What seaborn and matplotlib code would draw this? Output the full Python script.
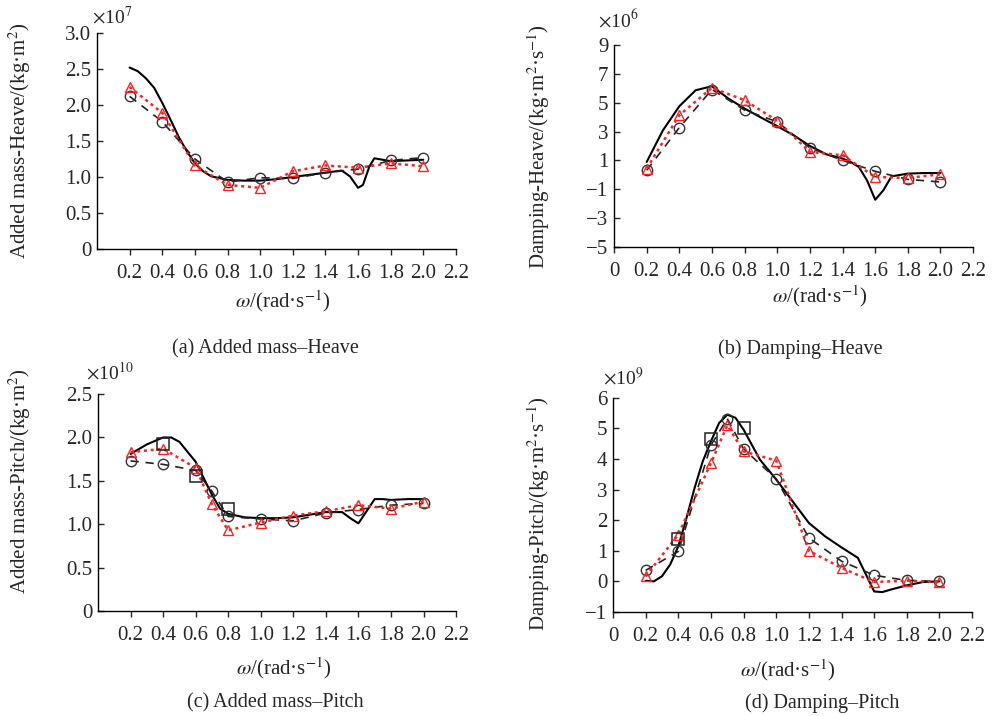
import numpy as np
import matplotlib
matplotlib.use("Agg")
import matplotlib.pyplot as plt
import seaborn as sns

# omega points (rad/s)
w = [0.2, 0.4, 0.6, 0.8, 1.0, 1.2, 1.4, 1.6, 1.8, 2.0]
w7 = [0.2, 0.4, 0.6, 0.7, 0.8, 1.0, 1.2, 1.4, 1.6, 1.8, 2.0]
w_sq = [0.4, 0.6, 0.8]

# (a) Added mass - Heave, x1e7
a_circ = [2.12, 1.77, 1.25, 0.93, 0.99, 0.98, 1.06, 1.11, 1.23, 1.27]
a_tri = [2.25, 1.89, 1.16, 0.89, 0.85, 1.08, 1.16, 1.13, 1.19, 1.15]
a_sol_x = [0.2, 0.25, 0.3, 0.35, 0.4, 0.45, 0.5, 0.55, 0.6, 0.65, 0.7, 0.8, 0.9, 1.0,
           1.1, 1.2, 1.3, 1.4, 1.5, 1.55, 1.6, 1.63, 1.67, 1.7, 1.75, 1.8, 1.9, 2.0]
a_sol_y = [2.52, 2.47, 2.37, 2.24, 2.03, 1.80, 1.56, 1.36, 1.19, 1.08, 1.01, 0.96, 0.95, 0.95,
           0.97, 1.00, 1.03, 1.06, 1.09, 1.01, 0.85, 0.89, 1.15, 1.26, 1.24, 1.22, 1.23, 1.24]

# (b) Damping - Heave, x1e6
b_circ = [0.32, 3.28, 5.92, 4.49, 3.68, 1.87, 1.01, 0.25, -0.31, -0.49]
b_tri = [0.44, 4.14, 6.04, 5.18, 3.75, 1.59, 1.36, -0.14, -0.21, 0.04]
b_sol_x = [0.2, 0.3, 0.4, 0.5, 0.6, 0.7, 0.8, 0.9, 1.0, 1.1, 1.2, 1.3, 1.4, 1.45,
           1.5, 1.55, 1.6, 1.65, 1.7, 1.8, 1.9, 2.0]
b_sol_y = [0.9, 3.1, 4.76, 5.87, 6.15, 5.3, 4.6, 3.98, 3.38, 2.75, 2.01, 1.43, 1.13, 0.9,
           0.55, -0.38, -1.72, -1.07, -0.1, 0.09, 0.13, 0.13]

# (c) Added mass - Pitch, x1e10
c_circ = [1.73, 1.69, 1.62, 1.38, 1.09, 1.06, 1.04, 1.13, 1.17, 1.22, 1.24]
c_tri = [1.83, 1.87, 1.65, 1.23, 0.93, 1.02, 1.10, 1.15, 1.22, 1.18, 1.26]
c_sq = [1.92, 1.56, 1.18]
c_sol_x = [0.2, 0.3, 0.4, 0.45, 0.5, 0.6, 0.65, 0.7, 0.75, 0.8, 0.9, 1.0, 1.1, 1.2,
           1.3, 1.4, 1.5, 1.55, 1.6, 1.65, 1.7, 1.75, 1.8, 1.9, 2.0]
c_sol_y = [1.81, 1.92, 2.0, 2.0, 1.95, 1.72, 1.53, 1.34, 1.18, 1.12, 1.08, 1.07, 1.07, 1.08,
           1.11, 1.14, 1.14, 1.07, 1.01, 1.15, 1.29, 1.29, 1.28, 1.29, 1.29]

# (d) Damping - Pitch, x1e9
d_circ = [0.36, 0.98, 4.45, 5.32, 4.33, 3.35, 1.42, 0.66, 0.2, 0.03, 0.0]
d_tri = [0.17, 1.53, 3.87, 5.1, 4.25, 3.95, 1.0, 0.44, -0.02, 0.02, -0.02]
d_sq = [1.39, 4.64, 5.0]
d_sol_x = [0.2, 0.25, 0.3, 0.35, 0.4, 0.45, 0.5, 0.55, 0.6, 0.65, 0.7, 0.75, 0.8, 0.9,
           1.0, 1.1, 1.2, 1.3, 1.4, 1.5, 1.55, 1.6, 1.65, 1.7, 1.8, 1.9, 2.0]
d_sol_y = [0.02, 0.0, 0.17, 0.55, 1.15, 2.07, 3.06, 3.93, 4.58, 5.18, 5.45, 5.35, 4.96, 3.98,
           3.33, 2.62, 1.91, 1.47, 1.11, 0.77, 0.22, -0.33, -0.35, -0.27, -0.13, -0.02, 0.0]

sns.set_style("ticks")
plt.rcParams['font.family'] = ['Liberation Serif', 'DejaVu Serif']
plt.rcParams['mathtext.fontset'] = 'stix'

fig = plt.figure(figsize=(10.03, 7.16), dpi=100)

xlab = r"$\omega$/(rad·s$^{-1}$)"
panels = [
    dict(rect=[0.0967, 0.6522, 0.3579, 0.3017], circ=a_circ, cx=w, tri=a_tri, sq=None,
         sx=a_sol_x, sy=a_sol_y, ylim=(0, 3.0), yt=[0, 0.5, 1.0, 1.5, 2.0, 2.5, 3.0],
         ytl=["0", "0.5", "1.0", "1.5", "2.0", "2.5", "3.0"], zero=False,
         ylabel=r"Added mass-Heave/(kg·m$^{2}$)", mult=r"$\times$10$^{7}$",
         mpos=(-0.014, 1.074), ylc=(-0.178, 0.5), xlc=(0.518, -0.18),
         cap="(a) Added mass\u2013Heave", cpos=(265, 349)),
    dict(rect=[0.6122, 0.655, 0.358, 0.282], circ=b_circ, cx=w, tri=b_tri, sq=None,
         sx=b_sol_x, sy=b_sol_y, ylim=(-5, 9), yt=[-5, -3, -1, 1, 3, 5, 7, 9],
         ytl=["\u22125", "\u22123", "\u22121", "1", "3", "5", "7", "9"], zero=True,
         ylabel=r"Damping-Heave/(kg·m$^{2}$·s$^{-1}$)", mult=r"$\times$10$^{6}$",
         mpos=(-0.045, 1.124), ylc=(-0.173, 0.5), xlc=(0.574, -0.178),
         cap="(b) Damping\u2013Heave", cpos=(800, 349)),
    dict(rect=[0.0977, 0.1466, 0.357, 0.303], circ=c_circ, cx=w7, tri=c_tri, sq=c_sq,
         sx=c_sol_x, sy=c_sol_y, ylim=(0, 2.5), yt=[0, 0.5, 1.0, 1.5, 2.0, 2.5],
         ytl=["0", "0.5", "1.0", "1.5", "2.0", "2.5"], zero=False,
         ylabel=r"Added mass-Pitch/(kg·m$^{2}$)", mult=r"$\times$10$^{10}$",
         mpos=(-0.034, 1.10), ylc=(-0.182, 0.6), xlc=(0.518, -0.203),
         cap="(c) Added mass\u2013Pitch", cpos=(275, 703)),
    dict(rect=[0.6112, 0.1453, 0.358, 0.299], circ=d_circ, cx=w7, tri=d_tri, sq=d_sq,
         sx=d_sol_x, sy=d_sol_y, ylim=(-1, 6), yt=[-1, 0, 1, 2, 3, 4, 5, 6],
         ytl=["\u22121", "0", "1", "2", "3", "4", "5", "6"], zero=True,
         ylabel=r"Damping-Pitch/(kg·m$^{2}$·s$^{-1}$)", mult=r"$\times$10$^{9}$",
         mpos=(-0.028, 1.093), ylc=(-0.17, 0.46), xlc=(0.487, -0.21),
         cap="(d) Damping\u2013Pitch", cpos=(822, 703)),
]

FS = 15

for p in panels:
    ax = fig.add_axes(p['rect'])
    # solid reference curve
    sns.lineplot(x=p['sx'], y=p['sy'], ax=ax, color='black', linewidth=1.5)
    # dashed with circles
    sns.lineplot(x=p['cx'], y=p['circ'], ax=ax, color='#222222', linestyle=(0, (5, 4)),
                 linewidth=1.2, marker='o', markersize=7.5, markerfacecolor='none',
                 markeredgecolor='#333333', markeredgewidth=1.0)
    # red dotted with triangles
    sns.lineplot(x=p['cx'], y=p['tri'], ax=ax, color='#ff2020', linestyle=(0, (1.2, 1.5)),
                 linewidth=1.8, marker='^', markersize=7.5, markerfacecolor='none',
                 markeredgecolor='#ff2020', markeredgewidth=1.0)
    if p['sq'] is not None:
        sns.lineplot(x=w_sq, y=p['sq'], ax=ax, linestyle='', marker='s', markersize=8,
                     markerfacecolor='none', markeredgecolor='#222222', markeredgewidth=1.1)

    ax.set_xlim(0, 2.2)
    ax.set_ylim(*p['ylim'])
    xt = [0.2, 0.4, 0.6, 0.8, 1.0, 1.2, 1.4, 1.6, 1.8, 2.0, 2.2]
    xtl = ["0.2", "0.4", "0.6", "0.8", "1.0", "1.2", "1.4", "1.6", "1.8", "2.0", "2.2"]
    if p['zero']:
        xt = [0] + xt
        xtl = ["0"] + xtl
    ax.set_xticks(xt)
    ax.set_xticklabels(xtl, fontsize=FS)
    ax.set_yticks(p['yt'])
    ax.set_yticklabels(p['ytl'], fontsize=FS)
    ax.tick_params(axis='x', direction='out', length=4, width=1, pad=7)
    ax.tick_params(axis='y', direction='in', length=4, width=1, pad=4)
    sns.despine(ax=ax)
    for s in ['left', 'bottom']:
        ax.spines[s].set_linewidth(1.0)
        ax.spines[s].set_color('black')

    ax.set_ylabel(p['ylabel'], fontsize=FS)
    ax.yaxis.set_label_coords(*p['ylc'])
    ax.set_xlabel(xlab, fontsize=FS)
    ax.xaxis.set_label_coords(*p['xlc'])
    ax.text(p['mpos'][0], p['mpos'][1], p['mult'], transform=ax.transAxes,
            ha='left', va='center', fontsize=14)
    fig.text(p['cpos'][0] / 1003, 1 - p['cpos'][1] / 716, p['cap'],
             ha='center', va='center', fontsize=14.5)

plt.savefig("out.png", dpi=100)
